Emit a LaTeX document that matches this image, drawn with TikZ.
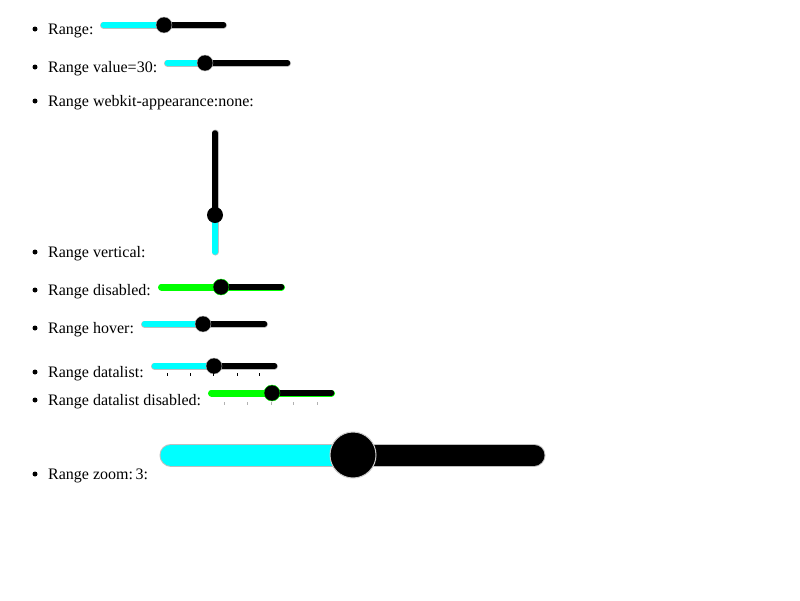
\documentclass[tikz,border=0pt]{standalone}
\usepackage{fontspec}
\setmainfont{Liberation Serif}
\begin{document}
\begin{tikzpicture}[x=1pt, y=-1pt, font=\fontsize{16}{19}\selectfont,
  item/.style = {anchor=base west, inner sep=0pt},
  dot/.style = {circle, fill, inner sep=0pt, minimum size=5pt},
  rim/.style = {line width=7pt, line cap=round},
  lowpart/.style = {line width=5.5pt, line cap=round},
  knob/.style = {circle, fill=black, inner sep=0pt, minimum size=16pt},
  tickmark/.style = {line width=0.8pt}]
\definecolor{aqua}{RGB}{0,255,255}
\definecolor{lime}{RGB}{0,255,0}
\useasboundingbox[fill=white] (0,0) rectangle (800,600);
% labels
\foreach \y/\t [count=\i] in {29/Range:, 67/Range value=30:, 101/Range webkit-appearance:none:,
    252/Range vertical:, 290/Range disabled:, 328/Range hover:, 372/Range datalist:,
    400/Range datalist disabled:, 474/Range zoom:\,3:} {
  \node[dot] (b\i) at (35,\y) {};
  \node[item] (l\i) at (48,\y+5) {\t};
}
% horizontal sliders
\foreach \a/\b/\y/\k/\c/\e [count=\i] in {100/227/25/164/aqua/gray!50, 164/291/63/205/aqua/gray!50,
    158/285/287/221/lime/lime, 141/268/324/203/aqua/gray!50, 151/278/366/214/aqua/gray!50,
    208/335/393/272/lime/lime} {
  \draw[rim, \e] (\a+3.5,\y) -- (\b-3.5,\y);
  \draw[lowpart, \c] (\a+3.5,\y) -- (\k,\y);
  \draw[lowpart, black] (\k,\y) -- (\b-3.5,\y);
  \node[knob, draw=\e] (k\i) at (\k,\y) {};
}
% vertical slider
\draw[rim, gray!50] (215,133) -- (215,252);
\draw[lowpart, black] (215,133) -- (215,215);
\draw[lowpart, aqua] (215,215) -- (215,252);
\node[knob] (kv) at (215,215) {};
% datalist ticks
\foreach \x in {167,190,213,237,259}
  \draw[tickmark] (\x,373) -- (\x,376);
\foreach \x in {224,247,271,293,317}
  \draw[tickmark, gray!60] (\x,402) -- (\x,405);
% zoomed slider
\draw[line width=23pt, line cap=round, gray!50] (171,455) -- (534,455);
\draw[line width=21pt, line cap=round, aqua] (171,455) -- (353,455);
\draw[line width=21pt, line cap=round, black] (353,455) -- (534,455);
\node[knob, minimum size=46pt, draw=gray!40, line width=1pt] (kz) at (353,455) {};
\end{tikzpicture}
\end{document}
